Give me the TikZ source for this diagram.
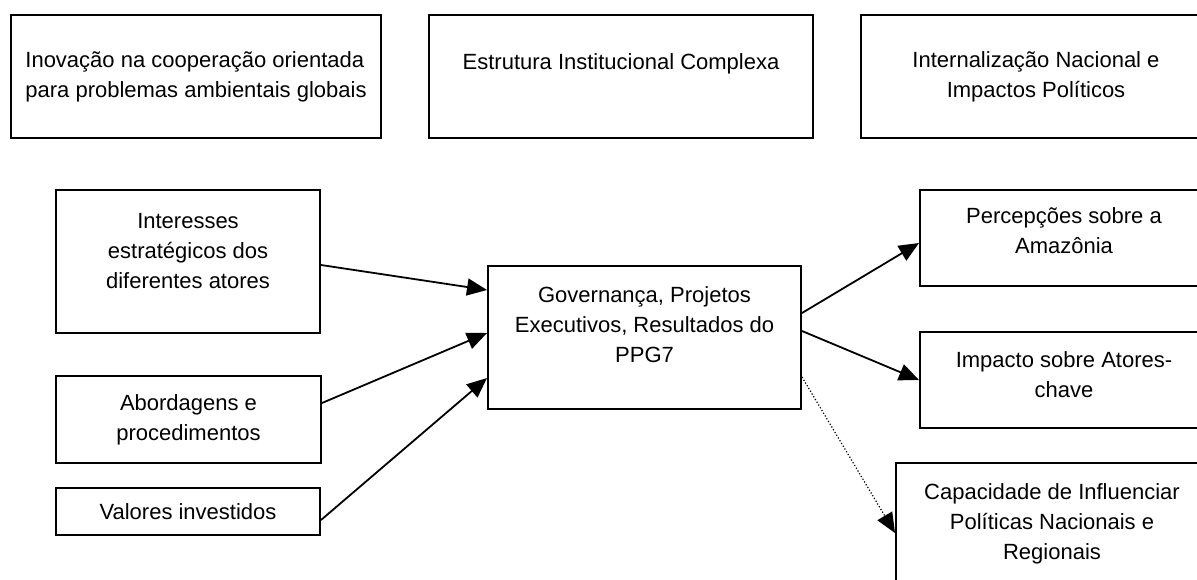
\documentclass[tikz,border=0pt]{standalone}
\usepackage{fontspec}
\setmainfont{Liberation Sans}
\usetikzlibrary{arrows.meta}
\tikzset{
  caixa/.style={draw, line width=1pt, inner sep=3pt, align=center,
    font=\fontsize{11}{15}\selectfont},
  seta/.style={-{Triangle[length=10pt,width=8.5pt]}, line width=0.9pt},
  pontilhada/.style={-{Triangle[length=10pt,width=8.5pt]}, line width=0.6pt, densely dotted},
}
\begin{document}
\begin{tikzpicture}[x=0.5pt, y=-0.5pt]
  \useasboundingbox (0,0) rectangle (1197,579);
  \clip (0,0) rectangle (1197,579);
  % linha de cima
  \node[caixa, align=left, minimum width=185pt, minimum height=61.5pt] (inov) at (196,76.5)
    {Inovação na cooperação orientada\\para problemas ambientais globais};
  \node[caixa, minimum width=192pt, minimum height=61.5pt, text depth=15pt] (estr) at (621,76.5)
    {Estrutura Institucional Complexa};
  \node[caixa, minimum width=175pt, minimum height=61.5pt] (intern) at (1036,76.5)
    {Internalização Nacional e\\Impactos Políticos};

  % entradas
  \node[caixa, minimum width=132pt, minimum height=71.5pt, text depth=11pt] (inter) at (188,261.5)
    {Interesses\\estratégicos dos\\diferentes atores};
  \node[caixa, minimum width=132.5pt, minimum height=43.5pt] (abord) at (188.5,419.5)
    {Abordagens e\\procedimentos};
  \node[caixa, minimum width=132pt, minimum height=23.5pt] (valor) at (188,511.5)
    {Valores investidos};

  % centro
  \node[caixa, minimum width=156.5pt, minimum height=71.5pt, text depth=13pt] (gov) at (644.5,337.5)
    {Governança, Projetos\\Executivos, Resultados do\\PPG7};

  % saidas
  \node[caixa, minimum width=144pt, minimum height=48pt, text depth=7pt] (perc) at (1064,238)
    {Percepções sobre a\\Amazônia};
  \node[caixa, minimum width=144pt, minimum height=48pt, text depth=5pt] (impac) at (1064,380)
    {Impacto sobre Atores-\\chave};
  \node[caixa, minimum width=156pt, minimum height=60.5pt] (capac) at (1052,523.5)
    {Capacidade de Influenciar\\Políticas Nacionais e\\Regionais};

  \draw[seta] (inter.east |- 0,265) -- (gov.west |- 0,290);
  \draw[seta] (abord.east |- 0,403) -- (gov.west |- 0,333);
  \draw[seta] (valor.east |- 0,520) -- (gov.west |- 0,378);
  \draw[seta] (gov.east |- 0,313) -- (perc.west |- 0,243);
  \draw[seta] (gov.east |- 0,331) -- (impac.west |- 0,380);
  \draw[pontilhada] (gov.east |- 0,377) -- (capac.west |- 0,533);
\end{tikzpicture}
\end{document}
